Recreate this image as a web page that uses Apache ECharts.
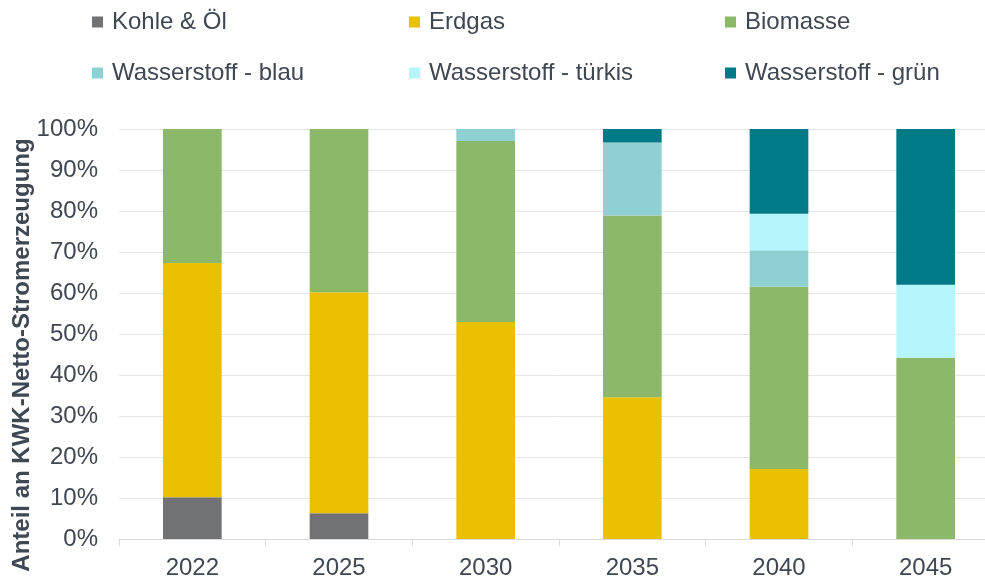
<!DOCTYPE html>
<html>
<head>
<meta charset="utf-8">
<script src="https://cdn.jsdelivr.net/npm/echarts@6/dist/echarts.min.js"></script>
<style>
  html, body { margin: 0; padding: 0; background: #fff; }
  #chart { width: 985px; height: 580px; }
</style>
</head>
<body>
<div id="chart"></div>
<script>
// Kategorien (Jahre) und Anteile in %
var years = ['2022', '2025', '2030', '2035', '2040', '2045']
var kohleOel = [10.2, 6.3, 0, 0, 0, 0]
var erdgas = [57.1, 53.9, 52.9, 34.6, 17.1, 0]
var biomasse = [32.7, 39.8, 44.2, 44.3, 44.4, 44.2]
var h2Blau = [0, 0, 2.9, 17.8, 8.9, 0]
var h2Tuerkis = [0, 0, 0, 0, 8.9, 17.8]
var h2Gruen = [0, 0, 0, 3.3, 20.7, 38.0]
var yTicks = [0, 10, 20, 30, 40, 50, 60, 70, 80, 90, 100]

var seriesNames = ['Kohle & Öl', 'Erdgas', 'Biomasse', 'Wasserstoff - blau', 'Wasserstoff - türkis', 'Wasserstoff - grün']
var seriesData = [kohleOel, erdgas, biomasse, h2Blau, h2Tuerkis, h2Gruen]
var colors = ['#717275', '#ebc000', '#8bb869', '#8fd1d2', '#b4f6fc', '#007a87']

var font = '"Liberation Sans", Arial, sans-serif'
var textColor = '#3f4752'

// Legende: 3 Spalten x 2 Zeilen
var legendLeft = [92, 409, 725]
var legendTop = [10, 61]

var legends = seriesNames.map(function(name, i) {
    return {
        data: [name],
        left: legendLeft[i % 3],
        top: legendTop[Math.floor(i / 3)],
        icon: 'rect',
        itemWidth: 11,
        itemHeight: 11,
        padding: 0,
        selectedMode: false,
        textStyle: {
            fontFamily: font,
            fontSize: 24,
            color: textColor,
            padding: [0, 0, 0, 4]
        }
    }
})

var chart = echarts.init(document.getElementById('chart'))

chart.setOption({
    animation: false,
    color: colors,
    legend: legends,
    // Plotfläche läuft rechts etwas über den Rand hinaus (wie im Original)
    grid: {
        left: 119,
        width: 880,
        top: 129,
        bottom: 41,
        outerBoundsMode: 'none',
        containLabel: false
    },
    xAxis: {
        type: 'category',
        data: years,
        axisLine: { lineStyle: { color: '#d9d9d9', width: 1 } },
        axisTick: { show: true, length: 7, lineStyle: { color: '#d9d9d9' } },
        axisLabel: {
            fontFamily: font,
            fontSize: 24,
            color: textColor,
            margin: 17
        }
    },
    yAxis: {
        type: 'value',
        min: yTicks[0],
        max: yTicks[yTicks.length - 1],
        interval: yTicks[1] - yTicks[0],
        axisLine: { show: false },
        axisTick: { show: false },
        splitLine: { lineStyle: { color: '#e2e6ea', width: 1 } },
        axisLabel: {
            formatter: '{value}%',
            fontFamily: font,
            fontSize: 24,
            color: textColor,
            margin: 21
        }
    },
    graphic: [{
        type: 'text',
        x: 22,
        y: 355,
        rotation: Math.PI / 2,
        style: {
            text: 'Anteil an KWK-Netto-Stromerzeugung',
            font: 'bold 24px ' + font,
            fill: textColor,
            align: 'center',
            verticalAlign: 'middle'
        }
    }],
    series: seriesNames.map(function(name, i) {
        return {
            name: name,
            type: 'bar',
            stack: 'total',
            barWidth: '40%',
            data: seriesData[i]
        }
    })
})
</script>
</body>
</html>
